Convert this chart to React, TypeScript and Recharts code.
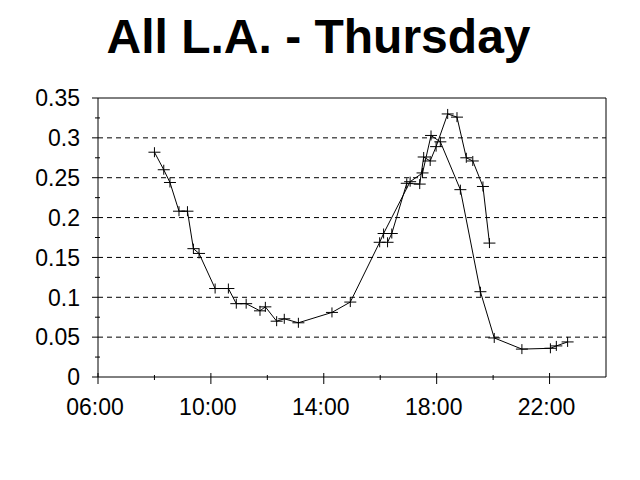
import {
  ScatterChart,
  Scatter,
  XAxis,
  YAxis,
  CartesianGrid,
  ReferenceLine,
} from "recharts";

// hours of day (decimal) and values
const dayHours = [
  8.0, 8.33, 8.55, 8.87, 9.17, 9.38, 9.58, 10.15, 10.62, 10.9, 11.25, 11.74,
  11.93, 12.33, 12.6, 13.1, 14.29, 14.94, 15.98, 16.12, 17.06, 17.5, 17.8,
  18.13, 18.84, 19.55, 20.04, 21.02, 22.03, 22.24, 22.64,
];
const dayValues = [
  0.282, 0.26, 0.244, 0.208, 0.208, 0.161, 0.155, 0.111, 0.111, 0.092, 0.092,
  0.083, 0.088, 0.07, 0.073, 0.068, 0.081, 0.094, 0.169, 0.18, 0.245, 0.256,
  0.303, 0.295, 0.235, 0.107, 0.049, 0.035, 0.036, 0.039, 0.044,
];

const eveHours = [
  16.26, 16.41, 16.94, 17.4, 17.54, 17.77, 17.98, 18.39, 18.72, 19.05, 19.28,
  19.64, 19.87,
];
const eveValues = [
  0.169, 0.18, 0.243, 0.242, 0.276, 0.271, 0.289, 0.33, 0.326, 0.275, 0.271,
  0.239, 0.168,
];

const xTicks = [6, 8, 10, 12, 14, 16, 18, 20, 22];
const xLabels = [6, 10, 14, 18, 22];
const yTicks = [
  0, 0.025, 0.05, 0.075, 0.1, 0.125, 0.15, 0.175, 0.2, 0.225, 0.25, 0.275, 0.3,
  0.325, 0.35,
];
const yLabels = [0, 0.05, 0.1, 0.15, 0.2, 0.25, 0.3, 0.35];
const gridValues = [0.05, 0.1, 0.15, 0.2, 0.25, 0.3];

const dayData = dayHours.map((h, i) => ({ h, v: dayValues[i] }));
const eveData = eveHours.map((h, i) => ({ h, v: eveValues[i] }));

const font = '"Liberation Sans", Arial, sans-serif';

const fmtHour = (h: number) => String(h).padStart(2, "0") + ":00";

function Plus(props: any) {
  const { cx, cy } = props;
  return (
    <path
      d={`M${cx - 6},${cy}H${cx + 6}M${cx},${cy - 5}V${cy + 5}`}
      stroke="#000"
      strokeWidth={1}
      fill="none"
    />
  );
}

function XTick(props: any) {
  const { x, y, payload } = props;
  const major = xLabels.includes(payload.value);
  return (
    <g>
      <line
        x1={x}
        x2={x}
        y1={y - (major ? 4 : 2)}
        y2={y + (major ? 7 : 3)}
        stroke="#000"
      />
      {major && (
        <text
          x={x - 3}
          y={y + 38}
          textAnchor="middle"
          fontSize={23}
          fontFamily={font}
          fill="#000"
        >
          {fmtHour(payload.value)}
        </text>
      )}
    </g>
  );
}

function YTick(props: any) {
  const { x, y, payload } = props;
  const major = yLabels.some((v) => Math.abs(v - payload.value) < 1e-6);
  return (
    <g>
      <line
        x1={major ? x - 6 : x - 3}
        x2={major ? x : x + 2}
        y1={y}
        y2={y}
        stroke="#000"
      />
      {major && (
        <text
          x={x - 18}
          y={y}
          dy="0.36em"
          textAnchor="end"
          fontSize={23}
          fontFamily={font}
          fill="#000"
        >
          {String(Number(payload.value.toFixed(2)))}
        </text>
      )}
    </g>
  );
}

export default function App() {
  return (
    <div
      style={{
        position: "relative",
        width: 640,
        height: 480,
        margin: -8,
        background: "#fff",
      }}
    >
      <ScatterChart
        width={640}
        height={480}
        margin={{ top: 98, left: 97, right: 34, bottom: 102 }}
      >
        <CartesianGrid
          vertical={false}
          horizontalValues={gridValues}
          stroke="#000"
          strokeDasharray="5 4"
        />
        <XAxis
          type="number"
          dataKey="h"
          domain={[6, 24]}
          ticks={xTicks}
          interval={0}
          height={1}
          tickSize={0}
          tickMargin={0}
          tickLine={false}
          tick={<XTick />}
          axisLine={{ stroke: "#000" }}
          allowDataOverflow
        />
        <YAxis
          type="number"
          dataKey="v"
          domain={[0, 0.35]}
          ticks={yTicks}
          interval={0}
          width={1}
          tickSize={0}
          tickMargin={0}
          tickLine={false}
          tick={<YTick />}
          axisLine={{ stroke: "#000" }}
          allowDataOverflow
        />
        <ReferenceLine y={0.35} stroke="#000" />
        <ReferenceLine x={24} stroke="#000" />
        <Scatter
          data={dayData}
          line={{ stroke: "#000", strokeWidth: 1 }}
          shape={Plus}
          isAnimationActive={false}
        />
        <Scatter
          data={eveData}
          line={{ stroke: "#000", strokeWidth: 1 }}
          shape={Plus}
          isAnimationActive={false}
        />
      </ScatterChart>
      <svg
        width={640}
        height={480}
        style={{ position: "absolute", left: 0, top: 0, pointerEvents: "none" }}
      >
        <rect
          x={0.5}
          y={0.5}
          width={639}
          height={479}
          fill="none"
          stroke="#000"
        />
        <text
          x={318.5}
          y={53}
          textAnchor="middle"
          fontSize={48}
          fontWeight="bold"
          fontFamily={font}
          fill="#000"
        >
          All L.A. - Thursday
        </text>
      </svg>
    </div>
  );
}
